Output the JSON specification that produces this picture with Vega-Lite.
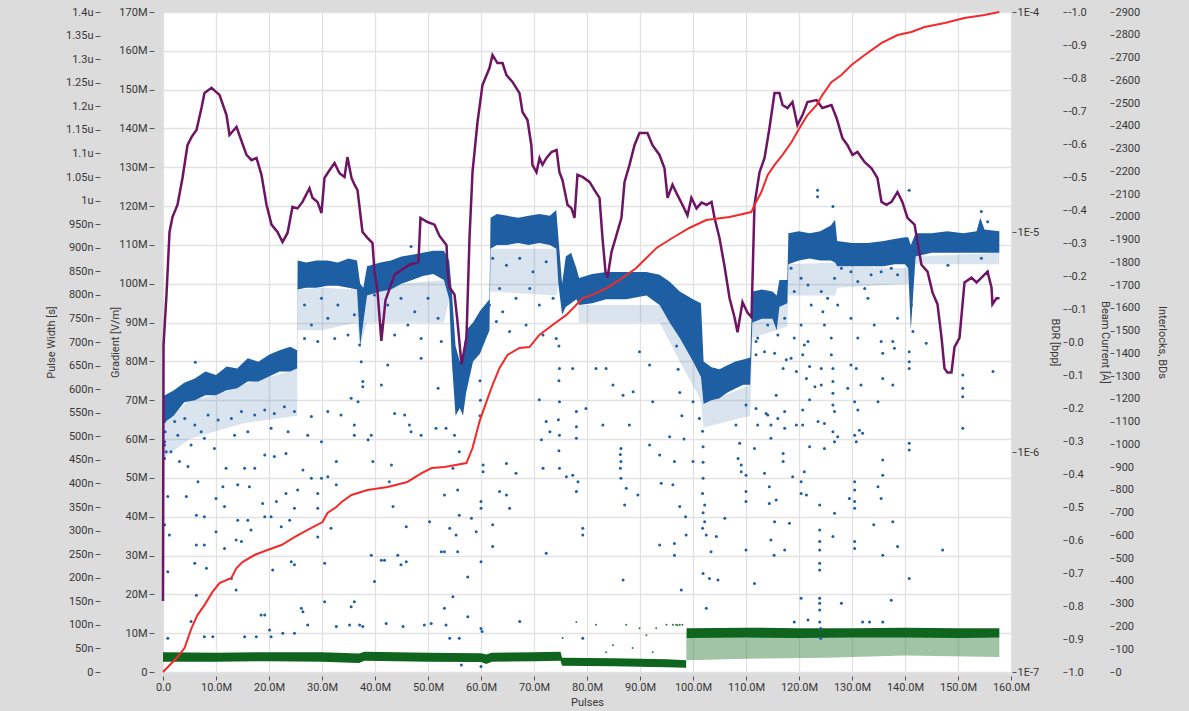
{
"$schema":"https://vega.github.io/schema/vega-lite/v6.json",
"width":848,"height":660,
"autosize":{"type":"none"},
"padding":{"left":163,"top":12,"right":178,"bottom":39},
"background":"#dcdcdc",
"config":{
 "view":{"fill":"white","stroke":"#9a9a9a","strokeWidth":1},
 "font":"Roboto",
 "axis":{"labelFont":"Roboto","labelFontSize":11,"labelColor":"#383838","titleFont":"Roboto","titleFontSize":11,"titleFontWeight":"normal","titleColor":"#383838","tickColor":"#555555","tickWidth":1,"domain":false,"grid":false,"gridColor":"#e2e2e2","gridWidth":1.3,"labelOverlap":false}
},
"datasets":{
"blueFringe":[{"X":0,"lo":55,"hi":64},{"X":5,"lo":60,"hi":70},{"X":10,"lo":62,"hi":71.3},{"X":15,"lo":64,"hi":74},{"X":20,"lo":65,"hi":76},{"X":25.3,"lo":66,"hi":78},{"X":25.4,"lo":88,"hi":98.5},{"X":30,"lo":88,"hi":99},{"X":36.6,"lo":90,"hi":98.5},{"X":37.2,"lo":84,"hi":84},{"X":38.5,"lo":90,"hi":97},{"X":45,"lo":90,"hi":100},{"X":53,"lo":90,"hi":101},{"X":54,"lo":96,"hi":96},{"X":61.6,"lo":95,"hi":95},{"X":61.8,"lo":98,"hi":109},{"X":74.2,"lo":97,"hi":109},{"X":74.6,"lo":100,"hi":100},{"X":78.3,"lo":94.5,"hi":94.5},{"X":78.5,"lo":90,"hi":94.5},{"X":93.7,"lo":90,"hi":94.5},{"X":97.5,"lo":80,"hi":86},{"X":101.5,"lo":70,"hi":76},{"X":102,"lo":63,"hi":69},{"X":110.8,"lo":66,"hi":74},{"X":111.2,"lo":86,"hi":90},{"X":117.8,"lo":89,"hi":95},{"X":118,"lo":97,"hi":105},{"X":126.8,"lo":97,"hi":105.5},{"X":127.2,"lo":99,"hi":104.5},{"X":140.6,"lo":100,"hi":104},{"X":142,"lo":105,"hi":107},{"X":157.8,"lo":105,"hi":108}],
"blueBand":[{"X":0,"lo":64,"hi":71},{"X":2,"lo":66,"hi":72.5},{"X":4,"lo":69.5,"hi":74.5},{"X":6,"lo":70,"hi":75.6},{"X":8,"lo":71.3,"hi":77.4},{"X":10,"lo":71.3,"hi":76.5},{"X":12,"lo":72.6,"hi":78.7},{"X":14,"lo":73.1,"hi":78.2},{"X":16,"lo":74.8,"hi":80.8},{"X":18,"lo":74.8,"hi":79.9},{"X":20,"lo":76.1,"hi":81.7},{"X":22,"lo":77.4,"hi":82.9},{"X":24,"lo":77.4,"hi":83.8},{"X":25.3,"lo":78.2,"hi":82.9},
{"X":25.4,"lo":98.5,"hi":106},{"X":27,"lo":99,"hi":105.5},{"X":29,"lo":99,"hi":106},{"X":31,"lo":99.5,"hi":106},{"X":33,"lo":99.5,"hi":105.5},{"X":35,"lo":99,"hi":106.5},{"X":36.6,"lo":98.5,"hi":106},{"X":37.2,"lo":84,"hi":100},{"X":37.8,"lo":90,"hi":99},{"X":38.5,"lo":97,"hi":104.5},{"X":41,"lo":98,"hi":105.5},{"X":43,"lo":98.5,"hi":106},{"X":45,"lo":100,"hi":107},{"X":47,"lo":101,"hi":107.5},{"X":49,"lo":102,"hi":108},{"X":51,"lo":102.5,"hi":108.5},{"X":53,"lo":101,"hi":108.5},{"X":54,"lo":96,"hi":106},
{"X":54.5,"lo":80,"hi":98},{"X":55.2,"lo":66,"hi":84},{"X":56,"lo":68,"hi":80},{"X":56.6,"lo":66,"hi":82},{"X":57.2,"lo":72,"hi":88},{"X":58.5,"lo":80,"hi":90},{"X":59.8,"lo":82,"hi":93},{"X":61,"lo":86,"hi":95},{"X":61.6,"lo":88,"hi":96},
{"X":61.8,"lo":109,"hi":117},{"X":63,"lo":110,"hi":118},{"X":65,"lo":110,"hi":117.5},{"X":67,"lo":110.5,"hi":117},{"X":69,"lo":110,"hi":117.5},{"X":71,"lo":110.5,"hi":118},{"X":73,"lo":110,"hi":117.5},{"X":74.2,"lo":109,"hi":119},{"X":74.6,"lo":100,"hi":112},
{"X":75.3,"lo":92,"hi":100},{"X":76,"lo":94,"hi":107},{"X":77,"lo":95,"hi":108},{"X":78,"lo":96,"hi":104},
{"X":78.5,"lo":94.5,"hi":101.5},{"X":81,"lo":95,"hi":102.5},{"X":83.6,"lo":96,"hi":103},{"X":87.4,"lo":96,"hi":103},{"X":91.2,"lo":97,"hi":103},{"X":93.7,"lo":94.5,"hi":102.3},{"X":95.6,"lo":90,"hi":100.5},{"X":97.5,"lo":86,"hi":98},{"X":100,"lo":80,"hi":96},{"X":101.5,"lo":76,"hi":95},
{"X":102,"lo":69,"hi":80},{"X":103.5,"lo":70,"hi":78.5},{"X":105,"lo":70.5,"hi":78},{"X":106.5,"lo":72,"hi":79},{"X":108,"lo":73,"hi":80},{"X":109.5,"lo":74,"hi":80.5},{"X":110.8,"lo":74,"hi":81},
{"X":111.2,"lo":90,"hi":98},{"X":113,"lo":91,"hi":98.5},{"X":115,"lo":91,"hi":98},{"X":115.8,"lo":88,"hi":97},{"X":116.3,"lo":94,"hi":101},{"X":117.8,"lo":95,"hi":101},
{"X":118,"lo":105,"hi":113},{"X":120,"lo":106,"hi":113.5},{"X":122,"lo":106.5,"hi":113},{"X":124,"lo":106,"hi":113.5},{"X":126,"lo":106,"hi":115},{"X":126.8,"lo":105.5,"hi":116.5},
{"X":127.2,"lo":104.5,"hi":111},{"X":130,"lo":104.5,"hi":110.5},{"X":133,"lo":104.5,"hi":110.5},{"X":136,"lo":104.5,"hi":111},{"X":138,"lo":105,"hi":111.5},{"X":140,"lo":105,"hi":112},{"X":140.6,"lo":104,"hi":112},{"X":141.1,"lo":88,"hi":110},
{"X":142,"lo":107,"hi":113},{"X":145,"lo":108,"hi":113},{"X":148,"lo":108,"hi":113.5},{"X":151,"lo":108,"hi":113},{"X":153.5,"lo":108,"hi":113.5},{"X":154.2,"lo":108,"hi":117},{"X":155,"lo":108,"hi":114},{"X":157.8,"lo":108,"hi":113.5}],
"bluePts":[{"X":6.1,"G":79.8},{"X":7.2,"G":61.9},{"X":3.1,"G":54.2},{"X":4.7,"G":52.9},{"X":6.6,"G":49},{"X":4.4,"G":45.2},{"X":0.9,"G":45.2},{"X":6.3,"G":40.4},{"X":7.8,"G":40},{"X":0.3,"G":37.9},{"X":1.2,"G":35.3},{"X":6.3,"G":32.7},{"X":7.8,"G":32.7},{"X":6,"G":28},{"X":8.2,"G":26.7},{"X":0.9,"G":25.8},{"X":6.3,"G":19.8},{"X":5.3,"G":13},{"X":7.8,"G":9.1},{"X":9.4,"G":9.1},{"X":0.9,"G":8.7},{"X":10,"G":36.1},{"X":11.6,"G":31.8},{"X":13.8,"G":34},{"X":14.8,"G":33.6},{"X":14.1,"G":39.1},{"X":16,"G":39.1},{"X":11.3,"G":47.7},{"X":14.1,"G":48.2},{"X":16.3,"G":47.7},{"X":10,"G":44.7},{"X":11.6,"G":42.6},{"X":12.9,"G":24.1},{"X":13.8,"G":21.1},{"X":18.5,"G":14.7},{"X":19.2,"G":14.7},{"X":20.1,"G":10.8},{"X":20.4,"G":9.1},{"X":22.6,"G":10},{"X":24.8,"G":10},{"X":15.4,"G":9.1},{"X":17.6,"G":9.1},{"X":16.6,"G":36.6},{"X":19.2,"G":40},{"X":20.4,"G":40},{"X":22.3,"G":37.4},{"X":23.9,"G":39.1},{"X":18.8,"G":43.4},{"X":21.4,"G":43.9},{"X":23.2,"G":46},{"X":25.4,"G":46.9},{"X":24.8,"G":42.2},{"X":21,"G":55.5},{"X":23.2,"G":56.3},{"X":26.4,"G":52},{"X":28,"G":49.9},{"X":29.9,"G":49.9},{"X":31.1,"G":50.3},{"X":29.2,"G":46},{"X":32.7,"G":48.2},{"X":29.2,"G":42.2},{"X":31.7,"G":37},{"X":29.2,"G":34.8},{"X":30.5,"G":28},{"X":24.2,"G":28.4},{"X":24.8,"G":27.6},{"X":20.7,"G":26.3},{"X":26.1,"G":16.4},{"X":26.4,"G":15.5},{"X":30.5,"G":18.1},{"X":32.7,"G":11.7},{"X":36.1,"G":18.1},{"X":35.5,"G":16.8},{"X":37.1,"G":12.1},{"X":37.7,"G":11.7},{"X":27.3,"G":12.1},{"X":35.2,"G":12.1},{"X":39.9,"G":23.3},{"X":39.3,"G":30.1},{"X":41.2,"G":28.8},{"X":41.8,"G":28.8},{"X":44.3,"G":30.1},{"X":44.9,"G":27.6},{"X":45.9,"G":28.4},{"X":42.1,"G":12.5},{"X":45.3,"G":11.7},{"X":49.3,"G":12.1},{"X":50.6,"G":12.5},{"X":52.5,"G":31},{"X":50.3,"G":38.7},{"X":45.9,"G":37.4},{"X":43.4,"G":42.6},{"X":42.7,"G":49},{"X":43.1,"G":53.3},{"X":39.6,"G":54.2},{"X":38.7,"G":59.8},{"X":36.1,"G":63.6},{"X":33.6,"G":66.2},{"X":31.1,"G":67.1},{"X":28,"G":65.8},{"X":27.3,"G":61},{"X":32.7,"G":54.2},{"X":29.9,"G":59.3},{"X":35.5,"G":70.5},{"X":37.7,"G":73.5},{"X":41.2,"G":73.9},{"X":42.4,"G":79.1},{"X":43.7,"G":66.6},{"X":46.5,"G":63.6},{"X":48.7,"G":80.8},{"X":51.9,"G":73.1},{"X":51.5,"G":62.8},{"X":48.7,"G":61},{"X":46.8,"G":61.9},{"X":45.6,"G":66.2},{"X":36.1,"G":61},{"X":39.3,"G":61},{"X":9.7,"G":57.6},{"X":11.9,"G":52.5},{"X":15.4,"G":52.5},{"X":17.3,"G":52.5},{"X":19.2,"G":55.9},
{"X":2.2,"G":64.5},{"X":4.1,"G":65.3},{"X":6,"G":63.6},{"X":8.5,"G":66.2},{"X":10.4,"G":64.9},{"X":12.9,"G":65.3},{"X":14.8,"G":67.1},{"X":17.3,"G":66.2},{"X":19.2,"G":67.5},{"X":21,"G":66.6},{"X":22.9,"G":68.3},{"X":24.8,"G":67.1},{"X":2.8,"G":61},{"X":7.8,"G":60.2},{"X":13.5,"G":61},{"X":16,"G":61.9},{"X":20.4,"G":62.8},{"X":23.6,"G":61.9},{"X":0.3,"G":58.5},{"X":1.5,"G":56.7},{"X":5.3,"G":58.5},{"X":0.3,"G":64.5},{"X":0.4,"G":61.9},{"X":0.3,"G":59.3},{"X":0.6,"G":56.7},{"X":0.3,"G":55},
{"X":26.7,"G":94.5},{"X":28,"G":89.4},{"X":29.9,"G":96.3},{"X":31.1,"G":91.1},{"X":33,"G":94.5},{"X":34.9,"G":86.8},{"X":36.1,"G":92},{"X":26.7,"G":85.9},{"X":29.2,"G":85.1},{"X":32.4,"G":85.9},{"X":39.9,"G":97.1},{"X":42.4,"G":94.5},{"X":44.9,"G":96.3},{"X":47.5,"G":92.8},{"X":50,"G":96.3},{"X":51.9,"G":91.1},{"X":43.7,"G":86.8},{"X":48.7,"G":85.9},{"X":52.5,"G":85.1},{"X":41.2,"G":89.4},{"X":46.2,"G":89.4},{"X":46.8,"G":109.6},{"X":37.1,"G":84.2},{"X":37.4,"G":79.9},{"X":37.7,"G":74.8},{"X":36.8,"G":69.6},
{"X":62.2,"G":106.6},{"X":64.8,"G":104.8},{"X":67.3,"G":106.6},{"X":69.8,"G":103.1},{"X":72.3,"G":105.7},{"X":63.5,"G":98.8},{"X":66.6,"G":96.3},{"X":69.2,"G":98.8},{"X":71,"G":94.5},{"X":73.6,"G":96.3},{"X":62.9,"G":90.3},{"X":65.4,"G":87.7},{"X":68.5,"G":89.4},{"X":71.7,"G":86.8},{"X":74.2,"G":85.9},{"X":61.6,"G":94.5},{"X":64.1,"G":92.8},
{"X":53.4,"G":62.8},{"X":55,"G":61},{"X":55.9,"G":56.7},{"X":54.7,"G":52.5},{"X":55.6,"G":46.9},{"X":53.1,"G":45.6},{"X":55.9,"G":40.4},{"X":54.1,"G":37},{"X":58.2,"G":39.6},{"X":59.1,"G":36.1},{"X":55.3,"G":35.3},{"X":53.1,"G":31},{"X":55.6,"G":31},{"X":57.5,"G":24.5},{"X":54.7,"G":19.4},{"X":53.1,"G":16.4},{"X":57.5,"G":14.2},{"X":53.4,"G":12.1},{"X":54.1,"G":8.7},{"X":55.9,"G":8.7},{"X":60,"G":11.2},{"X":60.2,"G":10.4},{"X":56.3,"G":1.8},{"X":60,"G":1.4},{"X":60.4,"G":51.6},{"X":60,"G":43.9},{"X":60,"G":42.2},{"X":60.4,"G":53.3},{"X":60,"G":28.4},{"X":62.2,"G":37.9},{"X":62.2,"G":32.3},{"X":64.8,"G":45.6},{"X":65.4,"G":42.2},{"X":63.5,"G":46.5},{"X":66.6,"G":51.2},{"X":64.8,"G":53.7},{"X":67.3,"G":13},{"X":71,"G":70.1},{"X":71.4,"G":59.8},{"X":72.3,"G":64.5},{"X":73,"G":61.9},{"X":71.7,"G":52.5},{"X":72.3,"G":30.6},{"X":74.8,"G":78.2},{"X":74.8,"G":69.6},{"X":74.8,"G":61},{"X":74.8,"G":52.5},{"X":76.1,"G":50.3},{"X":77.3,"G":78.2},{"X":78,"G":67.1},{"X":78,"G":63.2},{"X":78,"G":46.5},{"X":78,"G":60.2},{"X":79.2,"G":37},{"X":79.2,"G":35.3},{"X":79.2,"G":8.7},{"X":79.8,"G":67.9},{"X":83,"G":63.6},{"X":83.6,"G":78.2},{"X":84.9,"G":73.9},{"X":86.8,"G":71.3},{"X":86.4,"G":57.6},{"X":86.4,"G":54.2},{"X":86.4,"G":49.9},{"X":87.1,"G":43},{"X":86.8,"G":23.7},{"X":87.4,"G":47.3},{"X":88,"G":63.6},{"X":88.7,"G":72.2},{"X":89.6,"G":45.6},{"X":89.9,"G":82.5},{"X":91.8,"G":58.5},{"X":91.8,"G":79.1},{"X":93.7,"G":55.9},{"X":94,"G":48.6},{"X":93.7,"G":32.7},{"X":95.6,"G":60.6},{"X":96.5,"G":54.2},{"X":96.2,"G":48.2},{"X":96.5,"G":33.1},{"X":96.5,"G":30.1},{"X":97.5,"G":42.6},{"X":98.6,"G":40},{"X":98.7,"G":35.3},{"X":100,"G":54.2},{"X":101.9,"G":49.9},{"X":102.2,"G":43},{"X":102.2,"G":38.7},{"X":102.5,"G":35.3},{"X":103.4,"G":31},{"X":104.4,"G":34.9},{"X":101.9,"G":25.4},{"X":103.1,"G":24.1},{"X":104.7,"G":23.7},{"X":97.8,"G":21.1},{"X":102.5,"G":16.4},{"X":106,"G":39.6},{"X":77.3,"G":50.7},{"X":78.3,"G":49},{"X":81.7,"G":78.2},{"X":92.4,"G":69.6},{"X":100,"G":69.6},{"X":101.2,"G":65.3},
{"X":59.8,"G":75},{"X":59.9,"G":70},{"X":59.8,"G":66},{"X":74.7,"G":84},{"X":74.7,"G":75},{"X":74.6,"G":65},{"X":74.7,"G":57},{"X":86.3,"G":56},{"X":86.3,"G":52.5},{"X":96.9,"G":84},{"X":97.2,"G":78},{"X":97.5,"G":72},{"X":97.9,"G":66},{"X":98.3,"G":60},{"X":101.8,"G":62},{"X":101.9,"G":58},{"X":101.9,"G":54},{"X":101.8,"G":46},{"X":101.9,"G":41},{"X":101.8,"G":37},
{"X":123.5,"G":124.1},{"X":123.5,"G":122.4},{"X":126.4,"G":119.9},{"X":140.8,"G":124.1},{"X":154.4,"G":118.6},{"X":155.6,"G":116},{"X":118.5,"G":104},{"X":120.4,"G":101.4},{"X":119.1,"G":98},{"X":121.7,"G":99.7},{"X":122.3,"G":94.5},{"X":124.2,"G":98},{"X":125.4,"G":96.3},{"X":126.7,"G":101.4},{"X":128,"G":104},{"X":129.8,"G":103.1},{"X":131.1,"G":100.6},{"X":132.4,"G":98.8},{"X":133.6,"G":102.3},{"X":135.5,"G":103.1},{"X":137.4,"G":104},{"X":138.6,"G":102.3},{"X":127.3,"G":94.5},{"X":129.8,"G":91.1},{"X":133,"G":96.3},{"X":134.2,"G":89.4},{"X":138.6,"G":91.1},{"X":124.8,"G":89.4},{"X":120.4,"G":89.4},{"X":119.1,"G":86},{"X":121.7,"G":85.1},{"X":126.1,"G":86},{"X":131.1,"G":86},{"X":135.5,"G":85.1},{"X":148.1,"G":104.8},{"X":154.4,"G":106.6},{"X":155.6,"G":103.1},{"X":141.2,"G":103.1},{"X":124.2,"G":106.6},{"X":124.5,"G":92.8},{"X":141.2,"G":94.5},{"X":141.5,"G":87.7},{"X":112.2,"G":86},{"X":114.1,"G":89.4},{"X":116,"G":86.8},{"X":117.3,"G":91.1},
{"X":108.8,"G":58.9},{"X":108.5,"G":55},{"X":109.1,"G":53.3},{"X":109.1,"G":51.6},{"X":110,"G":50.7},{"X":110,"G":46.5},{"X":110,"G":43.9},{"X":110,"G":31.4},{"X":111.6,"G":22.8},{"X":113.5,"G":51.2},{"X":114.4,"G":47.7},{"X":115.7,"G":44.3},{"X":114.4,"G":43.4},{"X":115.4,"G":38.7},{"X":118.2,"G":38.3},{"X":114.7,"G":34},{"X":117.3,"G":31.4},{"X":115.3,"G":30.1},{"X":117,"G":54.2},{"X":117,"G":56.3},{"X":118.8,"G":50.3},{"X":120.4,"G":49},{"X":120.4,"G":46},{"X":121.4,"G":45.6},{"X":121,"G":51.6},{"X":123.9,"G":43},{"X":123.9,"G":36.6},{"X":123.9,"G":33.6},{"X":123.9,"G":31.4},{"X":123.9,"G":28},{"X":123.9,"G":26.3},{"X":123.9,"G":19},{"X":123.9,"G":17.7},{"X":123.9,"G":16},{"X":123.9,"G":12.9},{"X":119.1,"G":12.9},{"X":121.7,"G":13.4},{"X":120.4,"G":19},{"X":128,"G":17.7},{"X":126.7,"G":40.9},{"X":126.4,"G":34.9},{"X":129.5,"G":44.7},{"X":130.5,"G":43.9},{"X":130.5,"G":42.2},{"X":130.5,"G":33.6},{"X":130.5,"G":31.8},{"X":130.5,"G":49},{"X":130.5,"G":46.9},{"X":130.5,"G":61},{"X":130.8,"G":59.3},{"X":131.4,"G":62.3},{"X":132,"G":61.5},{"X":132,"G":12.9},{"X":133.3,"G":12.9},{"X":135.8,"G":12.9},{"X":137.4,"G":18.5},{"X":138.6,"G":32.3},{"X":137.7,"G":38.7},{"X":134.1,"G":37.9},{"X":135.8,"G":30.1},{"X":135.5,"G":44.7},{"X":135.8,"G":50.7},{"X":135.8,"G":54.6},{"X":134.9,"G":47.7},{"X":140.8,"G":58.9},{"X":140.8,"G":57.2},{"X":140.8,"G":24.1},{"X":147.1,"G":31.4},{"X":150.9,"G":76.5},{"X":150.9,"G":73.1},{"X":150.9,"G":70.9},{"X":150.9,"G":62.8},{"X":156.6,"G":77.4},{"X":111.6,"G":57.6},{"X":114.7,"G":60.2},{"X":122,"G":58},{"X":124.8,"G":57.6},{"X":126.7,"G":59.3},{"X":127.3,"G":60.6},{"X":129.2,"G":73.1},{"X":131.1,"G":67.5},{"X":130.5,"G":69.6},{"X":134.9,"G":69.6},{"X":129.8,"G":79.1},{"X":130.8,"G":78.2},{"X":131.7,"G":73.9},{"X":135.8,"G":75.6},{"X":137.7,"G":73.9},{"X":135.8,"G":82.1},{"X":138,"G":83.4},{"X":137.7,"G":85.1},{"X":140.8,"G":82.5},{"X":140.8,"G":79.9},{"X":140.8,"G":78.2},{"X":144,"G":84.7},{"X":121,"G":84.2},{"X":122,"G":78.7},{"X":124.2,"G":78.2},{"X":124.2,"G":73.9},{"X":118.5,"G":80.8},{"X":117,"G":78.2},{"X":115.7,"G":71.3},{"X":113.8,"G":66.6},{"X":112.2,"G":63.6},{"X":114.7,"G":63.6},{"X":117.3,"G":62.8},{"X":119.5,"G":63.6},{"X":120.7,"G":63.6},{"X":123.6,"G":64.5},{"X":124.8,"G":64},{"X":126.4,"G":61.9},{"X":126.7,"G":67.1},{"X":126.4,"G":68.8},{"X":126.4,"G":71.8},{"X":126.4,"G":74.8},{"X":126.4,"G":78.2},{"X":126.1,"G":81.7},{"X":107.2,"G":73.1},{"X":108.1,"G":63.6},{"X":110,"G":68.8},{"X":111.9,"G":67.9},{"X":114.1,"G":66.2},{"X":116,"G":65.3},{"X":117.3,"G":67.1},{"X":120.7,"G":67.5},{"X":122,"G":70.1},{"X":123,"G":73.5},{"X":121.4,"G":75.6},{"X":120.7,"G":81.7},{"X":119.5,"G":77.4},{"X":117.6,"G":80.4},{"X":115.4,"G":82.1},{"X":113.5,"G":82.5},{"X":111.9,"G":81.7},{"X":111.9,"G":85.1},{"X":124.1,"G":11.2},{"X":124.1,"G":8.7}],
"purple":[{"X":0,"BDR":2.1e-7},{"X":0.1,"BDR":3.06e-6},{"X":0.66,"BDR":5.2e-6},{"X":1.23,"BDR":1.0e-5},{"X":1.79,"BDR":1.17e-5},{"X":2.74,"BDR":1.33e-5},{"X":3.68,"BDR":1.76e-5},{"X":4.62,"BDR":2.48e-5},{"X":5.38,"BDR":2.7e-5},{"X":6.32,"BDR":2.91e-5},{"X":7.26,"BDR":3.66e-5},{"X":7.83,"BDR":4.28e-5},{"X":9.15,"BDR":4.52e-5},{"X":10.66,"BDR":4.2e-5},{"X":11.98,"BDR":3.4e-5},{"X":12.55,"BDR":2.76e-5},{"X":13.87,"BDR":3.0e-5},{"X":15.75,"BDR":2.24e-5},{"X":16.7,"BDR":2.12e-5},{"X":17.64,"BDR":2.17e-5},{"X":18.58,"BDR":1.82e-5},{"X":19.53,"BDR":1.33e-5},{"X":20.47,"BDR":1.08e-5},{"X":21.6,"BDR":1.0e-5},{"X":22.55,"BDR":9.0e-6},{"X":23.5,"BDR":9.9e-6},{"X":24.43,"BDR":1.3e-5},{"X":25.38,"BDR":1.28e-5},{"X":26.32,"BDR":1.37e-5},{"X":27.64,"BDR":1.58e-5},{"X":28.2,"BDR":1.43e-5},{"X":29.15,"BDR":1.37e-5},{"X":29.9,"BDR":1.22e-5},{"X":30.47,"BDR":1.76e-5},{"X":31.04,"BDR":1.85e-5},{"X":32.36,"BDR":2.06e-5},{"X":33.3,"BDR":1.85e-5},{"X":34.25,"BDR":1.78e-5},{"X":34.8,"BDR":2.19e-5},{"X":35.57,"BDR":1.76e-5},{"X":36.13,"BDR":1.64e-5},{"X":36.7,"BDR":1.55e-5},{"X":37.64,"BDR":1.0e-5},{"X":38.58,"BDR":9.4e-6},{"X":39.53,"BDR":8.9e-6},{"X":39.9,"BDR":6.6e-6},{"X":40.47,"BDR":5.4e-6},{"X":41.2,"BDR":3.2e-6},{"X":41.98,"BDR":4.9e-6},{"X":43.7,"BDR":6.4e-6},{"X":46.5,"BDR":7.1e-6},{"X":48.2,"BDR":7.3e-6},{"X":48.58,"BDR":1.16e-5},{"X":49.9,"BDR":1.11e-5},{"X":51.23,"BDR":1.08e-5},{"X":52.17,"BDR":9.6e-6},{"X":53.5,"BDR":8.7e-6},{"X":53.7,"BDR":6.6e-6},{"X":54.06,"BDR":5.6e-6},{"X":55.0,"BDR":5.2e-6},{"X":55.57,"BDR":3.9e-6},{"X":56.32,"BDR":2.5e-6},{"X":57.26,"BDR":3.3e-6},{"X":57.83,"BDR":9.4e-6},{"X":58.4,"BDR":1.87e-5},{"X":59.34,"BDR":3.16e-5},{"X":60.28,"BDR":4.66e-5},{"X":61.6,"BDR":5.56e-5},{"X":62.17,"BDR":6.38e-5},{"X":63.1,"BDR":5.86e-5},{"X":64.06,"BDR":5.86e-5},{"X":64.8,"BDR":5.17e-5},{"X":65.94,"BDR":4.81e-5},{"X":67.26,"BDR":4.28e-5},{"X":67.83,"BDR":3.51e-5},{"X":68.77,"BDR":3.23e-5},{"X":69.5,"BDR":2.48e-5},{"X":69.7,"BDR":2.02e-5},{"X":70.47,"BDR":1.87e-5},{"X":71.04,"BDR":2.17e-5},{"X":71.6,"BDR":2.02e-5},{"X":72.36,"BDR":2.17e-5},{"X":73.3,"BDR":2.31e-5},{"X":74.25,"BDR":2.36e-5},{"X":74.8,"BDR":1.87e-5},{"X":75.38,"BDR":1.72e-5},{"X":76.32,"BDR":1.33e-5},{"X":77.08,"BDR":1.28e-5},{"X":77.64,"BDR":1.16e-5},{"X":78.2,"BDR":1.82e-5},{"X":79.15,"BDR":1.78e-5},{"X":80.47,"BDR":1.69e-5},{"X":81.42,"BDR":1.55e-5},{"X":82.36,"BDR":1.43e-5},{"X":82.92,"BDR":9.4e-6},{"X":83.49,"BDR":6.6e-6},{"X":83.87,"BDR":6.2e-6},{"X":84.62,"BDR":8.1e-6},{"X":85.57,"BDR":9.7e-6},{"X":86.5,"BDR":1.16e-5},{"X":87.08,"BDR":1.69e-5},{"X":88.02,"BDR":2.02e-5},{"X":88.96,"BDR":2.48e-5},{"X":89.9,"BDR":2.82e-5},{"X":91.4,"BDR":2.82e-5},{"X":92.36,"BDR":2.48e-5},{"X":93.68,"BDR":2.24e-5},{"X":94.62,"BDR":1.95e-5},{"X":95.2,"BDR":1.43e-5},{"X":96.13,"BDR":1.64e-5},{"X":97.08,"BDR":1.47e-5},{"X":98.0,"BDR":1.33e-5},{"X":98.96,"BDR":1.19e-5},{"X":99.7,"BDR":1.43e-5},{"X":100.66,"BDR":1.28e-5},{"X":101.6,"BDR":1.36e-5},{"X":102.55,"BDR":1.33e-5},{"X":103.5,"BDR":1.37e-5},{"X":104.06,"BDR":1.16e-5},{"X":105.0,"BDR":9.4e-6},{"X":105.94,"BDR":7.0e-6},{"X":106.9,"BDR":5.0e-6},{"X":107.83,"BDR":4.1e-6},{"X":108.4,"BDR":3.5e-6},{"X":109.34,"BDR":4.8e-6},{"X":110.28,"BDR":4.3e-6},{"X":111.04,"BDR":4.1e-6},{"X":111.6,"BDR":1.33e-5},{"X":112.55,"BDR":1.87e-5},{"X":113.5,"BDR":2.17e-5},{"X":114.43,"BDR":2.97e-5},{"X":115.38,"BDR":4.28e-5},{"X":116.32,"BDR":4.28e-5},{"X":116.9,"BDR":3.78e-5},{"X":117.83,"BDR":3.66e-5},{"X":118.77,"BDR":3.9e-5},{"X":119.7,"BDR":3.06e-5},{"X":120.66,"BDR":3.4e-5},{"X":121.6,"BDR":3.9e-5},{"X":123.3,"BDR":3.98e-5},{"X":124.4,"BDR":3.66e-5},{"X":126.13,"BDR":3.78e-5},{"X":127.08,"BDR":3.3e-5},{"X":128.2,"BDR":2.67e-5},{"X":129.15,"BDR":2.48e-5},{"X":130.1,"BDR":2.24e-5},{"X":131.04,"BDR":2.31e-5},{"X":132.36,"BDR":2.08e-5},{"X":133.68,"BDR":1.95e-5},{"X":134.8,"BDR":1.76e-5},{"X":135.57,"BDR":1.37e-5},{"X":136.5,"BDR":1.33e-5},{"X":137.45,"BDR":1.37e-5},{"X":138.58,"BDR":1.52e-5},{"X":139.5,"BDR":1.37e-5},{"X":140.47,"BDR":1.16e-5},{"X":141.8,"BDR":1.08e-5},{"X":143.1,"BDR":7.1e-6},{"X":144.25,"BDR":6.6e-6},{"X":145.2,"BDR":5.3e-6},{"X":146.13,"BDR":4.7e-6},{"X":146.9,"BDR":3.3e-6},{"X":147.45,"BDR":2.4e-6},{"X":148.0,"BDR":2.3e-6},{"X":148.77,"BDR":2.3e-6},{"X":149.34,"BDR":3.0e-6},{"X":150.28,"BDR":3.3e-6},{"X":151.23,"BDR":5.9e-6},{"X":152.55,"BDR":6.2e-6},{"X":153.5,"BDR":5.9e-6},{"X":154.43,"BDR":6.2e-6},{"X":155.57,"BDR":6.6e-6},{"X":156.32,"BDR":5.6e-6},{"X":156.5,"BDR":4.7e-6},{"X":157.26,"BDR":5.0e-6},{"X":157.83,"BDR":5.0e-6}],
"red":[{"X":0,"BDs":0},{"X":2.74,"BDs":66},{"X":4.06,"BDs":105},{"X":5.38,"BDs":193},{"X":6.5,"BDs":250},{"X":7.83,"BDs":294},{"X":9.34,"BDs":352},{"X":10.66,"BDs":391},{"X":12.9,"BDs":413},{"X":13.87,"BDs":457},{"X":15,"BDs":483},{"X":17.26,"BDs":514},{"X":19.7,"BDs":536},{"X":22.36,"BDs":558},{"X":24.8,"BDs":593},{"X":28,"BDs":633},{"X":30.1,"BDs":659},{"X":31.04,"BDs":699},{"X":32.7,"BDs":725},{"X":33.7,"BDs":747},{"X":35.57,"BDs":778},{"X":38.6,"BDs":800},{"X":42.4,"BDs":813},{"X":46.1,"BDs":835},{"X":48.8,"BDs":874},{"X":50.7,"BDs":896},{"X":53.1,"BDs":901},{"X":57.26,"BDs":918},{"X":58.4,"BDs":984},{"X":59.7,"BDs":1099},{"X":61,"BDs":1186},{"X":62.17,"BDs":1261},{"X":63.5,"BDs":1336},{"X":65,"BDs":1393},{"X":67.26,"BDs":1424},{"X":69.15,"BDs":1428},{"X":71,"BDs":1481},{"X":73.5,"BDs":1525},{"X":76.1,"BDs":1569},{"X":77.6,"BDs":1604},{"X":79.15,"BDs":1643},{"X":81,"BDs":1657},{"X":83.7,"BDs":1687},{"X":86.1,"BDs":1722},{"X":89.3,"BDs":1775},{"X":93.1,"BDs":1863},{"X":96.1,"BDs":1907},{"X":99.3,"BDs":1951},{"X":102.5,"BDs":1986},{"X":106.9,"BDs":1999},{"X":111,"BDs":2021},{"X":111.6,"BDs":2052},{"X":112.9,"BDs":2109},{"X":114.1,"BDs":2184},{"X":115.4,"BDs":2228},{"X":116.9,"BDs":2272},{"X":118.6,"BDs":2329},{"X":120.1,"BDs":2390},{"X":121.6,"BDs":2447},{"X":123.3,"BDs":2491},{"X":124.4,"BDs":2535},{"X":126.1,"BDs":2592},{"X":128,"BDs":2623},{"X":129.9,"BDs":2667},{"X":132.4,"BDs":2711},{"X":135.6,"BDs":2764},{"X":138.6,"BDs":2799},{"X":141.2,"BDs":2812},{"X":143.7,"BDs":2834},{"X":147.5,"BDs":2852},{"X":151.2,"BDs":2874},{"X":155,"BDs":2887},{"X":157.8,"BDs":2900}],
"greenBand":[{"X":0,"lo":22,"hi":42},{"X":10,"lo":22,"hi":41},{"X":20,"lo":23,"hi":42},{"X":30,"lo":22,"hi":42},{"X":37,"lo":19,"hi":39},{"X":38,"lo":24,"hi":43},{"X":50,"lo":22,"hi":41},{"X":60,"lo":21,"hi":40},{"X":61,"lo":17,"hi":37},{"X":62,"lo":22,"hi":41},{"X":70,"lo":23,"hi":42},{"X":75,"lo":24,"hi":43},{"X":75.3,"lo":13,"hi":30},{"X":85,"lo":12,"hi":29},{"X":95,"lo":10,"hi":27},{"X":98.7,"lo":9,"hi":25},{"X":98.8,"lo":72,"hi":93},{"X":110,"lo":73,"hi":94},{"X":120,"lo":72,"hi":93},{"X":130,"lo":73,"hi":93},{"X":140,"lo":73,"hi":94},{"X":150,"lo":72,"hi":93},{"X":157.8,"lo":73,"hi":93}],
"greenSparse":[{"X":98.8,"lo":25,"hi":75},{"X":110,"lo":28,"hi":75},{"X":125,"lo":30,"hi":75},{"X":140,"lo":35,"hi":75},{"X":157.8,"lo":32,"hi":75}],
"greenPts":[{"X":87.4,"PW":100},{"X":89.9,"PW":93},{"X":91.2,"PW":78},{"X":93.05,"PW":93},{"X":95,"PW":100},{"X":96.2,"PW":100},{"X":97.5,"PW":100},{"X":78,"PW":106},{"X":81.7,"PW":100},{"X":84.9,"PW":57},{"X":88.6,"PW":51},{"X":92.4,"PW":42},{"X":75.4,"PW":72},{"X":83.6,"PW":42},{"X":96.8,"PW":100},{"X":98,"PW":100},{"X":97.1,"PW":99}],
"beam":[{"X":0,"Ib":-1},{"X":0,"Ib":1}]
},
"encoding":{"x":{"field":"X","type":"quantitative","scale":{"domain":[0,160],"nice":false,"zero":false},"axis":{"title":"Pulses","values":[0,10,20,30,40,50,60,70,80,90,100,110,120,130,140,150,160],"labelExpr":"datum.value == 0 ? '0.0' : format(datum.value, '.1f') + 'M'","grid":true,"tickSize":4,"offset":4,"labelPadding":1,"titlePadding":4,"labelFlush":false}}},
"layer":[
 {"layer":[
   {"data":{"name":"greenSparse"},"mark":{"type":"area","color":"#2f7a3a","opacity":0.45},"encoding":{"y":{"field":"lo","type":"quantitative","scale":{"domain":[0,1400],"nice":false,"zero":false},"axis":{"title":"Pulse Width [s]","orient":"left","offset":63,"values":[0,50,100,150,200,250,300,350,400,450,500,550,600,650,700,750,800,850,900,950,1000,1050,1100,1150,1200,1250,1300,1350,1400],"labelExpr":"datum.value == 0 ? '0' : datum.value >= 1000 ? format(datum.value/1000, '~g') + 'u' : datum.value + 'n'","tickSize":5,"labelPadding":2,"titlePadding":9}},"y2":{"field":"hi"}}},
   {"data":{"name":"greenBand"},"mark":{"type":"area","color":"#0f641e"},"encoding":{"y":{"field":"lo","type":"quantitative","scale":{"domain":[0,1400],"nice":false,"zero":false},"axis":{"title":"Pulse Width [s]","orient":"left","offset":63,"values":[0,50,100,150,200,250,300,350,400,450,500,550,600,650,700,750,800,850,900,950,1000,1050,1100,1150,1200,1250,1300,1350,1400],"labelExpr":"datum.value == 0 ? '0' : datum.value >= 1000 ? format(datum.value/1000, '~g') + 'u' : datum.value + 'n'","tickSize":5,"labelPadding":2,"titlePadding":9}},"y2":{"field":"hi"}}},
   {"data":{"name":"greenPts"},"mark":{"type":"point","filled":true,"size":4,"opacity":1,"color":"#2f7a3a"},"encoding":{"y":{"field":"PW","type":"quantitative","scale":{"domain":[0,1400],"nice":false,"zero":false},"axis":{"title":"Pulse Width [s]","orient":"left","offset":63,"values":[0,50,100,150,200,250,300,350,400,450,500,550,600,650,700,750,800,850,900,950,1000,1050,1100,1150,1200,1250,1300,1350,1400],"labelExpr":"datum.value == 0 ? '0' : datum.value >= 1000 ? format(datum.value/1000, '~g') + 'u' : datum.value + 'n'","tickSize":5,"labelPadding":2,"titlePadding":9}}}}
 ]},
 {"layer":[
   {"data":{"name":"blueFringe"},"mark":{"type":"area","color":"#1d5fa2","opacity":0.17},"encoding":{"y":{"field":"lo","type":"quantitative","scale":{"domain":[0,170],"nice":false,"zero":false},"axis":{"title":"Gradient [V/m]","orient":"left","offset":9,"values":[0,10,20,30,40,50,60,70,80,90,100,110,120,130,140,150,160,170],"labelExpr":"datum.value == 0 ? '0' : datum.value + 'M'","grid":true,"tickSize":5,"labelPadding":2,"titlePadding":-2}},"y2":{"field":"hi"}}},
   {"data":{"name":"blueBand"},"mark":{"type":"area","color":"#1d5fa2"},"encoding":{"y":{"field":"lo","type":"quantitative","scale":{"domain":[0,170],"nice":false,"zero":false},"axis":{"title":"Gradient [V/m]","orient":"left","offset":9,"values":[0,10,20,30,40,50,60,70,80,90,100,110,120,130,140,150,160,170],"labelExpr":"datum.value == 0 ? '0' : datum.value + 'M'","grid":true,"tickSize":5,"labelPadding":2,"titlePadding":-2}},"y2":{"field":"hi"}}},
   {"data":{"name":"bluePts"},"mark":{"type":"point","filled":true,"size":9,"opacity":1,"color":"#1d5fa2"},"encoding":{"y":{"field":"G","type":"quantitative","scale":{"domain":[0,170],"nice":false,"zero":false},"axis":{"title":"Gradient [V/m]","orient":"left","offset":9,"values":[0,10,20,30,40,50,60,70,80,90,100,110,120,130,140,150,160,170],"labelExpr":"datum.value == 0 ? '0' : datum.value + 'M'","grid":true,"tickSize":5,"labelPadding":2,"titlePadding":-2}}}}
 ]},
 {"data":{"name":"purple"},"mark":{"type":"line","color":"#6e1464","strokeWidth":2.5},"encoding":{"y":{"field":"BDR","type":"quantitative","scale":{"type":"log","domain":[1e-7,1e-4],"nice":false},"axis":{"title":"BDR [bpp]","orient":"right","offset":1,"values":[1e-7,1e-6,1e-5,1e-4],"labelExpr":"'1E-' + round(-log(datum.value)/LN10)","tickSize":4,"labelPadding":1,"titlePadding":11}}}},
 {"data":{"name":"red"},"mark":{"type":"line","color":"#f22a2a","strokeWidth":2},"encoding":{"y":{"field":"BDs","type":"quantitative","scale":{"domain":[0,2900],"nice":false,"zero":false},"axis":{"title":"Interlocks, BDs","orient":"right","offset":99,"values":[0,100,200,300,400,500,600,700,800,900,1000,1100,1200,1300,1400,1500,1600,1700,1800,1900,2000,2100,2200,2300,2400,2500,2600,2700,2800,2900],"format":"d","tickSize":4,"labelPadding":1,"titlePadding":17}}}},
 {"data":{"name":"beam"},"mark":{"type":"point","opacity":0},"encoding":{"y":{"field":"Ib","type":"quantitative","scale":{"domain":[-1,1],"reverse":true,"nice":false,"zero":false},"axis":{"title":"Beam Current [A]","orient":"right","offset":52,"values":[-1,-0.9,-0.8,-0.7,-0.6,-0.5,-0.4,-0.3,-0.2,-0.1,0,0.1,0.2,0.3,0.4,0.5,0.6,0.7,0.8,0.9,1],"labelExpr":"(datum.value < -0.001 ? '-' : '') + format(abs(datum.value), '.1f')","tickSize":4,"labelPadding":1,"titlePadding":13}}}}
],
"resolve":{"scale":{"y":"independent"},"axis":{"y":"independent"}}
}
